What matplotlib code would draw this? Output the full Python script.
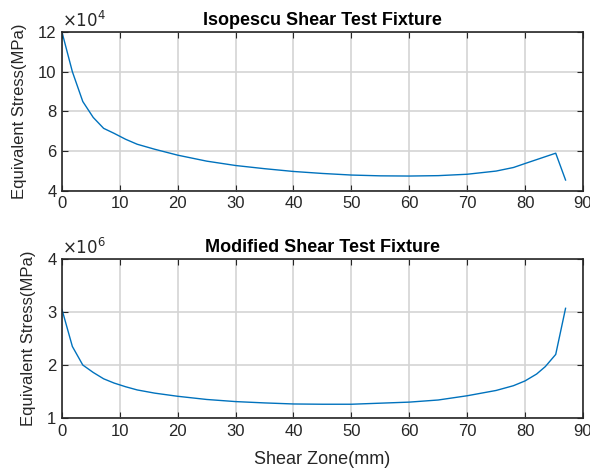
import numpy as np
import matplotlib.pyplot as plt

plt.rcParams['font.family'] = ['Liberation Sans', 'DejaVu Sans']

# Isopescu fixture (stress in 1e4 MPa)
x_iso = [0, 1.8, 3.6, 5.4, 7.2, 9, 11, 13, 16, 20, 25, 30, 35, 40, 45, 50, 55, 60,
         65, 70, 75, 78, 80, 85.3, 87]
s_iso = [12.0, 10.0, 8.5, 7.7, 7.15, 6.9, 6.6, 6.35, 6.1, 5.8, 5.5, 5.28, 5.12, 4.98,
         4.88, 4.8, 4.76, 4.75, 4.77, 4.84, 5.0, 5.18, 5.38, 5.9, 4.55]

# Modified fixture (stress in 1e6 MPa)
x_mod = [0, 1.8, 3.6, 5.4, 7.2, 9, 11, 13, 16, 20, 25, 30, 35, 40, 45, 50, 55, 60,
         65, 70, 75, 78, 80, 82, 83.5, 85.3, 87]
s_mod = [3.05, 2.35, 2.0, 1.86, 1.74, 1.66, 1.59, 1.53, 1.47, 1.41, 1.35, 1.31, 1.285,
         1.265, 1.26, 1.26, 1.28, 1.3, 1.34, 1.42, 1.52, 1.61, 1.7, 1.83, 1.97, 2.2, 3.07]

fig = plt.figure(figsize=(5.9, 4.68), dpi=100)
ax1 = fig.add_axes([0.105, 0.592, 0.883, 0.3397])
ax2 = fig.add_axes([0.105, 0.1068, 0.883, 0.3397])

blue = '#0072BD'
dark = '#262626'

def style(ax):
    ax.set_xlim(0, 90)
    ax.set_xticks(range(0, 91, 10))
    ax.grid(True, color='#d4d4d4', linewidth=1.2)
    ax.set_axisbelow(True)
    ax.tick_params(direction='in', top=True, right=True, labelsize=12, length=4,
                   colors=dark, labelcolor=dark, pad=4)
    for sp in ax.spines.values():
        sp.set_linewidth(1.2)
        sp.set_color(dark)

ax1.plot(x_iso, s_iso, color=blue, linewidth=1)
style(ax1)
ax1.set_ylim(4, 12)
ax1.set_yticks([4, 6, 8, 10, 12])
ax1.set_title('Isopescu Shear Test Fixture', fontsize=13, fontweight='bold', pad=5)
ax1.set_ylabel('Equivalent Stress(MPa)', fontsize=12, color=dark, labelpad=8)
ax1.text(0.0, 1.01, r'$\times10^{4}$', transform=ax1.transAxes, fontsize=12,
         color=dark, va='bottom', ha='left')

ax2.plot(x_mod, s_mod, color=blue, linewidth=1)
style(ax2)
ax2.set_ylim(1, 4)
ax2.set_yticks([1, 2, 3, 4])
ax2.set_title('Modified Shear Test Fixture', fontsize=13, fontweight='bold', pad=5)
ax2.set_ylabel('Equivalent Stress(MPa)', fontsize=12, color=dark, labelpad=8)
ax2.set_xlabel('Shear Zone(mm)', fontsize=13, color=dark, labelpad=9)
ax2.text(0.0, 1.01, r'$\times10^{6}$', transform=ax2.transAxes, fontsize=12,
         color=dark, va='bottom', ha='left')

fig.savefig('out.png', dpi=100)
